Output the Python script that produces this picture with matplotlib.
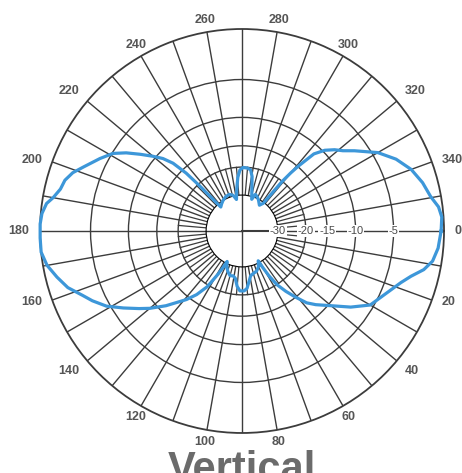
import numpy as np
import matplotlib
matplotlib.use('Agg')
import matplotlib.pyplot as plt

plt.rcParams['font.family'] = ['Liberation Sans', 'DejaVu Sans']

# ---------------------------------------------------------------
# vertical pattern
# angle in degrees (0 at right, going clockwise), level in dB
# ---------------------------------------------------------------
pattern_deg = [0, 5, 9, 12, 15, 18, 23, 30, 35, 40, 45, 48, 51, 54, 57, 59, 60.5, 61.5,
               65, 70, 75, 79, 82, 85, 88, 92, 95, 98, 101, 105, 109, 113, 116,
               117.5, 119, 122, 125.5, 129, 135.5, 140, 143, 147, 151, 155, 158, 162,
               166, 170, 174, 178, 182, 185, 188, 190, 193, 196, 199, 202, 207, 211,
               214, 217, 220, 222.5, 224.5, 226, 226.8, 227.5, 228.5,
               233, 238, 245, 251, 256, 260, 263, 265.5, 268, 271, 275, 278, 280.5,
               283, 287, 290, 294, 298, 304, 307.5,
               308, 308.5, 309, 310, 311, 313, 315.7, 318.7, 321.5, 324.5, 330, 335,
               340, 345, 349.7, 353, 356, 360]
pattern_db = [-0.25, -0.45, -0.8, -1.45, -2.5, -3.3, -4.3, -5.4, -7.3, -9.6, -11.5, -12.8,
              -15.0, -17.3, -20.0, -23.5, -27.5, -31.0,
              -28.5, -27.0, -26.5, -25.9, -24.0, -21.8, -21.1, -21.1, -22.4, -25.0, -25.8,
              -25.6, -26.8, -28.5, -31.0,
              -27.5, -24.5, -19.5, -16.5, -14.4, -11.1, -9.0, -7.8, -6.2, -4.6, -3.5, -2.8,
              -1.7, -1.0, -0.35, 0.0, 0.0, 0.0, -0.1, -0.4, -0.9, -1.4, -1.6, -2.1, -2.9,
              -4.1, -5.1, -6.4, -8.0, -9.6, -11.0, -12.8, -16.0, -20.5, -26.5, -32.0,
              -31.0, -30.0, -29.0, -28.7, -29.6, -32.0, -27.0, -23.0, -20.8, -20.1, -20.2,
              -20.6, -22.5, -26.5, -31.4, -28.6, -29.3, -30.4, -32.5, -30.5,
              -27.7, -24.0, -20.0, -17.0, -14.8, -11.3, -9.7, -8.6, -7.8, -6.6, -4.4, -3.0,
              -2.0, -1.35, -0.9, -0.35, -0.15, -0.25]

theta_labels = list(range(0, 360, 20))
ring_db = [-20, -15, -10, -5]
ring_labels = [-30, -20, -15, -10, -5]
db_min = -30
db_max = 0
db_center = -400

grid_col = '#3c3c3c'


def db_to_r(db):
    # log-periodic radius, 10 dB -> 0.56 of full scale
    return 10.0 ** (np.asarray(db, dtype=float) / 40.0)


def r_to_db(r):
    return 40.0 * np.log10(np.maximum(np.asarray(r, dtype=float), 1e-300))


fig = plt.figure(figsize=(4.62, 4.73), dpi=100)
ax = fig.add_axes([0.0866, 0.0846, 0.8745, 0.8541], projection='polar')
ax.set_theta_zero_location('E')
ax.set_theta_direction(-1)
ax.set_rscale('function', functions=(db_to_r, r_to_db))
ax.set_rlim(db_min, db_max)
ax.set_rorigin(db_center)

ax.set_xticks(np.deg2rad(np.arange(0, 360, 10)))
ax.set_xticklabels([])
ax.set_yticks(ring_db)
ax.set_yticklabels([])
ax.tick_params(length=0)
ax.grid(True, color=grid_col, lw=1.0)
ax.spines['polar'].set_color(grid_col)
ax.spines['polar'].set_linewidth(1.3)
ax.spines['inner'].set_visible(False)

# short in-between spokes near the hole
for a in range(5, 360, 10):
    ax.plot([np.deg2rad(a)] * 2, [db_min, ring_db[0]], color=grid_col, lw=0.9,
            zorder=1)

# cross through the centre hole
for a in [0, 90, 180, 270]:
    ax.plot([np.deg2rad(a)] * 2, [db_center, db_min], color=grid_col,
            lw=1.5 if a == 0 else 1.0, clip_on=False, zorder=1)

# the pattern itself
ax.plot(np.deg2rad(pattern_deg), pattern_db, color='#3d97d9', lw=2.3,
        clip_on=False, zorder=4)

# dB labels along the 0 degree line
for v in ring_labels:
    ax.text(0, v, str(v), ha='center', va='center', fontsize=8, color='#4a4a4a',
            bbox=dict(fc='white', ec='none', pad=0.6), zorder=3)

# angle labels
for a in theta_labels:
    t = np.deg2rad(a)
    c, s = np.cos(t), np.sin(t)
    ha = 'left' if c > 0.55 else ('right' if c < -0.55 else 'center')
    va = 'top' if s > 0.55 else ('bottom' if s < -0.55 else 'center')
    ax.annotate(str(a), xy=(t, db_max), xytext=(7.5 * c, -4.5 * s),
                textcoords='offset points', ha=ha, va=va, fontsize=9,
                fontweight='bold', color='#555555', annotation_clip=False)

fig.text(242 / 462, -8 / 473, 'Vertical', ha='center', va='baseline', fontsize=30,
         fontweight='bold', color='#6b6b6b')

plt.savefig('out.png', dpi=100)
